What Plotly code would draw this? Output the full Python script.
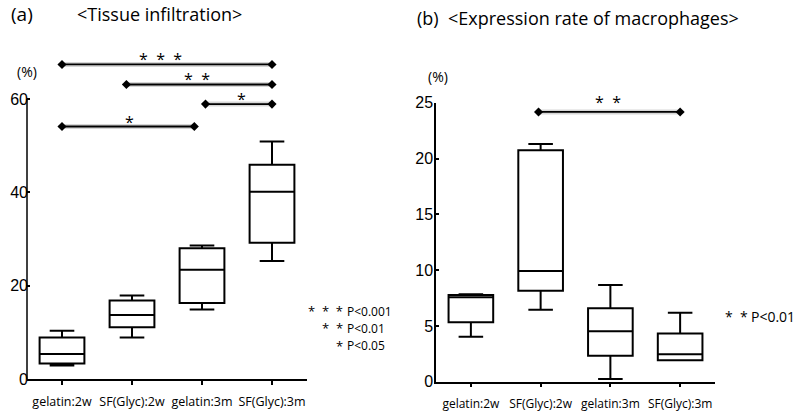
import plotly.graph_objects as go

# ---------------- data ----------------
categories = ["gelatin:2w", "SF(Glyc):2w", "gelatin:3m", "SF(Glyc):3m"]
positions = [0, 1, 2, 3]

# (a) Tissue infiltration (%)
a_low = [2.9, 8.9, 14.9, 25.3]
a_q1 = [3.3, 11.1, 16.3, 29.2]
a_med = [5.35, 13.7, 23.4, 40.1]
a_q3 = [8.9, 16.8, 28.0, 45.9]
a_high = [10.35, 17.9, 28.6, 50.9]

# (b) Expression rate of macrophages (%)
b_low = [4.03, 6.45, 0.24, 1.92]
b_q1 = [5.32, 8.15, 2.33, 1.92]
b_med = [7.56, 9.92, 4.51, 2.45]
b_q3 = [7.77, 20.73, 6.58, 4.33]
b_high = [7.83, 21.3, 8.67, 6.18]

# significance brackets: start, end, level, label, label centre
a_sig_start = [0.0, 0.92, 2.05, 0.0]
a_sig_end = [3.0, 3.0, 3.0, 1.89]
a_sig_level = [67.4, 63.1, 58.9, 54.1]
a_sig_label = ["*  *  *", "*  *", "*", "*"]
a_sig_label_x = [1.41, 1.93, 2.56, 0.97]

b_sig_start = [0.97]
b_sig_end = [3.0]
b_sig_level = [24.17]
b_sig_label = ["*  *"]
b_sig_label_x = [1.97]

a_ticks = [0, 20, 40, 60]
b_ticks = [0, 5, 10, 15, 20, 25]

a_legend_stars = ["*  *  *", "*  *", "*"]
a_legend_p = ["P<0.001", "P<0.01", "P<0.05"]
b_legend_stars = ["*  *"]
b_legend_p = ["P<0.01"]

# ---------------- figure ----------------
W, H = 800, 414
TXT = "Open Sans"
NUM = "Liberation Sans"


def nb(s):
    return s.replace(" ", "&nbsp;")


def fx(px):
    return px / W


def fy(py):
    return 1 - py / H


fig = go.Figure()


def add_box(xa, ya, low, q1, med, q3, high):
    fig.add_trace(go.Box(
        x=positions, q1=q1, median=med, q3=q3,
        lowerfence=low, upperfence=high,
        width=0.64, whiskerwidth=0.55,
        line=dict(color="black", width=2), fillcolor="white",
        boxpoints=False, showlegend=False, xaxis=xa, yaxis=ya,
    ))


add_box("x", "y", a_low, a_q1, a_med, a_q3, a_high)
add_box("x2", "y2", b_low, b_q1, b_med, b_q3, b_high)


def add_sig(xa, ya, starts, ends, levels, labels, label_x, yshift):
    for s, e, lv, lab, lx in zip(starts, ends, levels, labels, label_x):
        fig.add_trace(go.Scatter(
            x=[s, e], y=[lv, lv], mode="lines",
            line=dict(color="rgba(0,0,0,0.16)", width=5),
            hoverinfo="skip", showlegend=False, xaxis=xa, yaxis=ya))
        fig.add_trace(go.Scatter(
            x=[s, e], y=[lv, lv], mode="lines+markers",
            line=dict(color="black", width=1.8),
            marker=dict(symbol="diamond", size=7, color="black"),
            hoverinfo="skip", showlegend=False, xaxis=xa, yaxis=ya))
        fig.add_annotation(x=lx, y=lv, xref=xa, yref=ya, text=nb(lab),
                           showarrow=False, yanchor="middle", yshift=yshift,
                           font=dict(family=TXT, size=16, color="black"))


add_sig("x", "y", a_sig_start, a_sig_end, a_sig_level, a_sig_label, a_sig_label_x, 5)
add_sig("x2", "y2", b_sig_start, b_sig_end, b_sig_level, b_sig_label, b_sig_label_x, 10)

# y-axis line of panel (a) only up to top tick
fig.add_shape(type="line", xref="x domain", yref="y", x0=0, x1=0,
              y0=a_ticks[0], y1=a_ticks[-1], line=dict(color="black", width=1.5))


def xcommon(size):
    return dict(range=[-0.5, 3.5], tickvals=positions, ticktext=categories,
                showline=True, linecolor="black", linewidth=1.5,
                ticks="outside", ticklen=4, tickcolor="black", tickwidth=1.5,
                showgrid=False, zeroline=False, fixedrange=True, automargin=False,
                ticklabelstandoff=6,
                tickfont=dict(family=TXT, size=size, color="black"))


ycommon = dict(ticks="inside", ticklen=3, tickcolor="black", tickwidth=1.5,
               showgrid=False, zeroline=False, automargin=False, fixedrange=True,
               ticklabelstandoff=-2,
               tickfont=dict(family=NUM, size=16, color="black"))

fig.update_layout(
    width=W, height=H, margin=dict(l=0, r=0, t=0, b=0, pad=0), autosize=False,
    paper_bgcolor="white", plot_bgcolor="white", showlegend=False,
    xaxis=dict(domain=[fx(27), fx(307)], anchor="y", **xcommon(12.5)),
    xaxis2=dict(domain=[fx(436), fx(715)], anchor="y2", **xcommon(12)),
    yaxis=dict(domain=[fy(379), fy(52.3)], anchor="x", range=[0, 70],
               tickvals=a_ticks, showline=False, **ycommon),
    yaxis2=dict(domain=[fy(381.7), fy(102.7)], anchor="x2", range=[0, 25],
                tickvals=b_ticks, showline=True, linecolor="black", linewidth=1.5,
                **ycommon),
)


def paper_text(px, py, text, size, xanchor="left", family=TXT):
    fig.add_annotation(x=fx(px), y=fy(py), xref="paper", yref="paper",
                       text=text, showarrow=False, xanchor=xanchor, yanchor="middle",
                       borderpad=0,
                       font=dict(family=family, size=size, color="black"))


paper_text(10, 14, "(a)", 19)
paper_text(76, 14, "&lt;Tissue infiltration&gt;", 18)
paper_text(416, 18, "(b)", 18)
paper_text(447, 18, "&lt;Expression rate of macrophages&gt;", 18)
paper_text(27, 71, "(%)", 14, xanchor="center")
paper_text(438, 76, "(%)", 14, xanchor="center")

for i, (st, p) in enumerate(zip(a_legend_stars, a_legend_p)):
    yy = 311 + 17.3 * i
    paper_text(344, yy, nb(st), 13, xanchor="right")
    paper_text(346, yy, p, 12)
for st, p in zip(b_legend_stars, b_legend_p):
    paper_text(749, 316, nb(st), 14, xanchor="right")
    paper_text(750, 316, p, 14)

fig.write_html(
    "out.html",
    config={"displayModeBar": False, "staticPlot": False},
    post_script="document.body.style.margin='0px';document.body.style.overflow='hidden';",
)
